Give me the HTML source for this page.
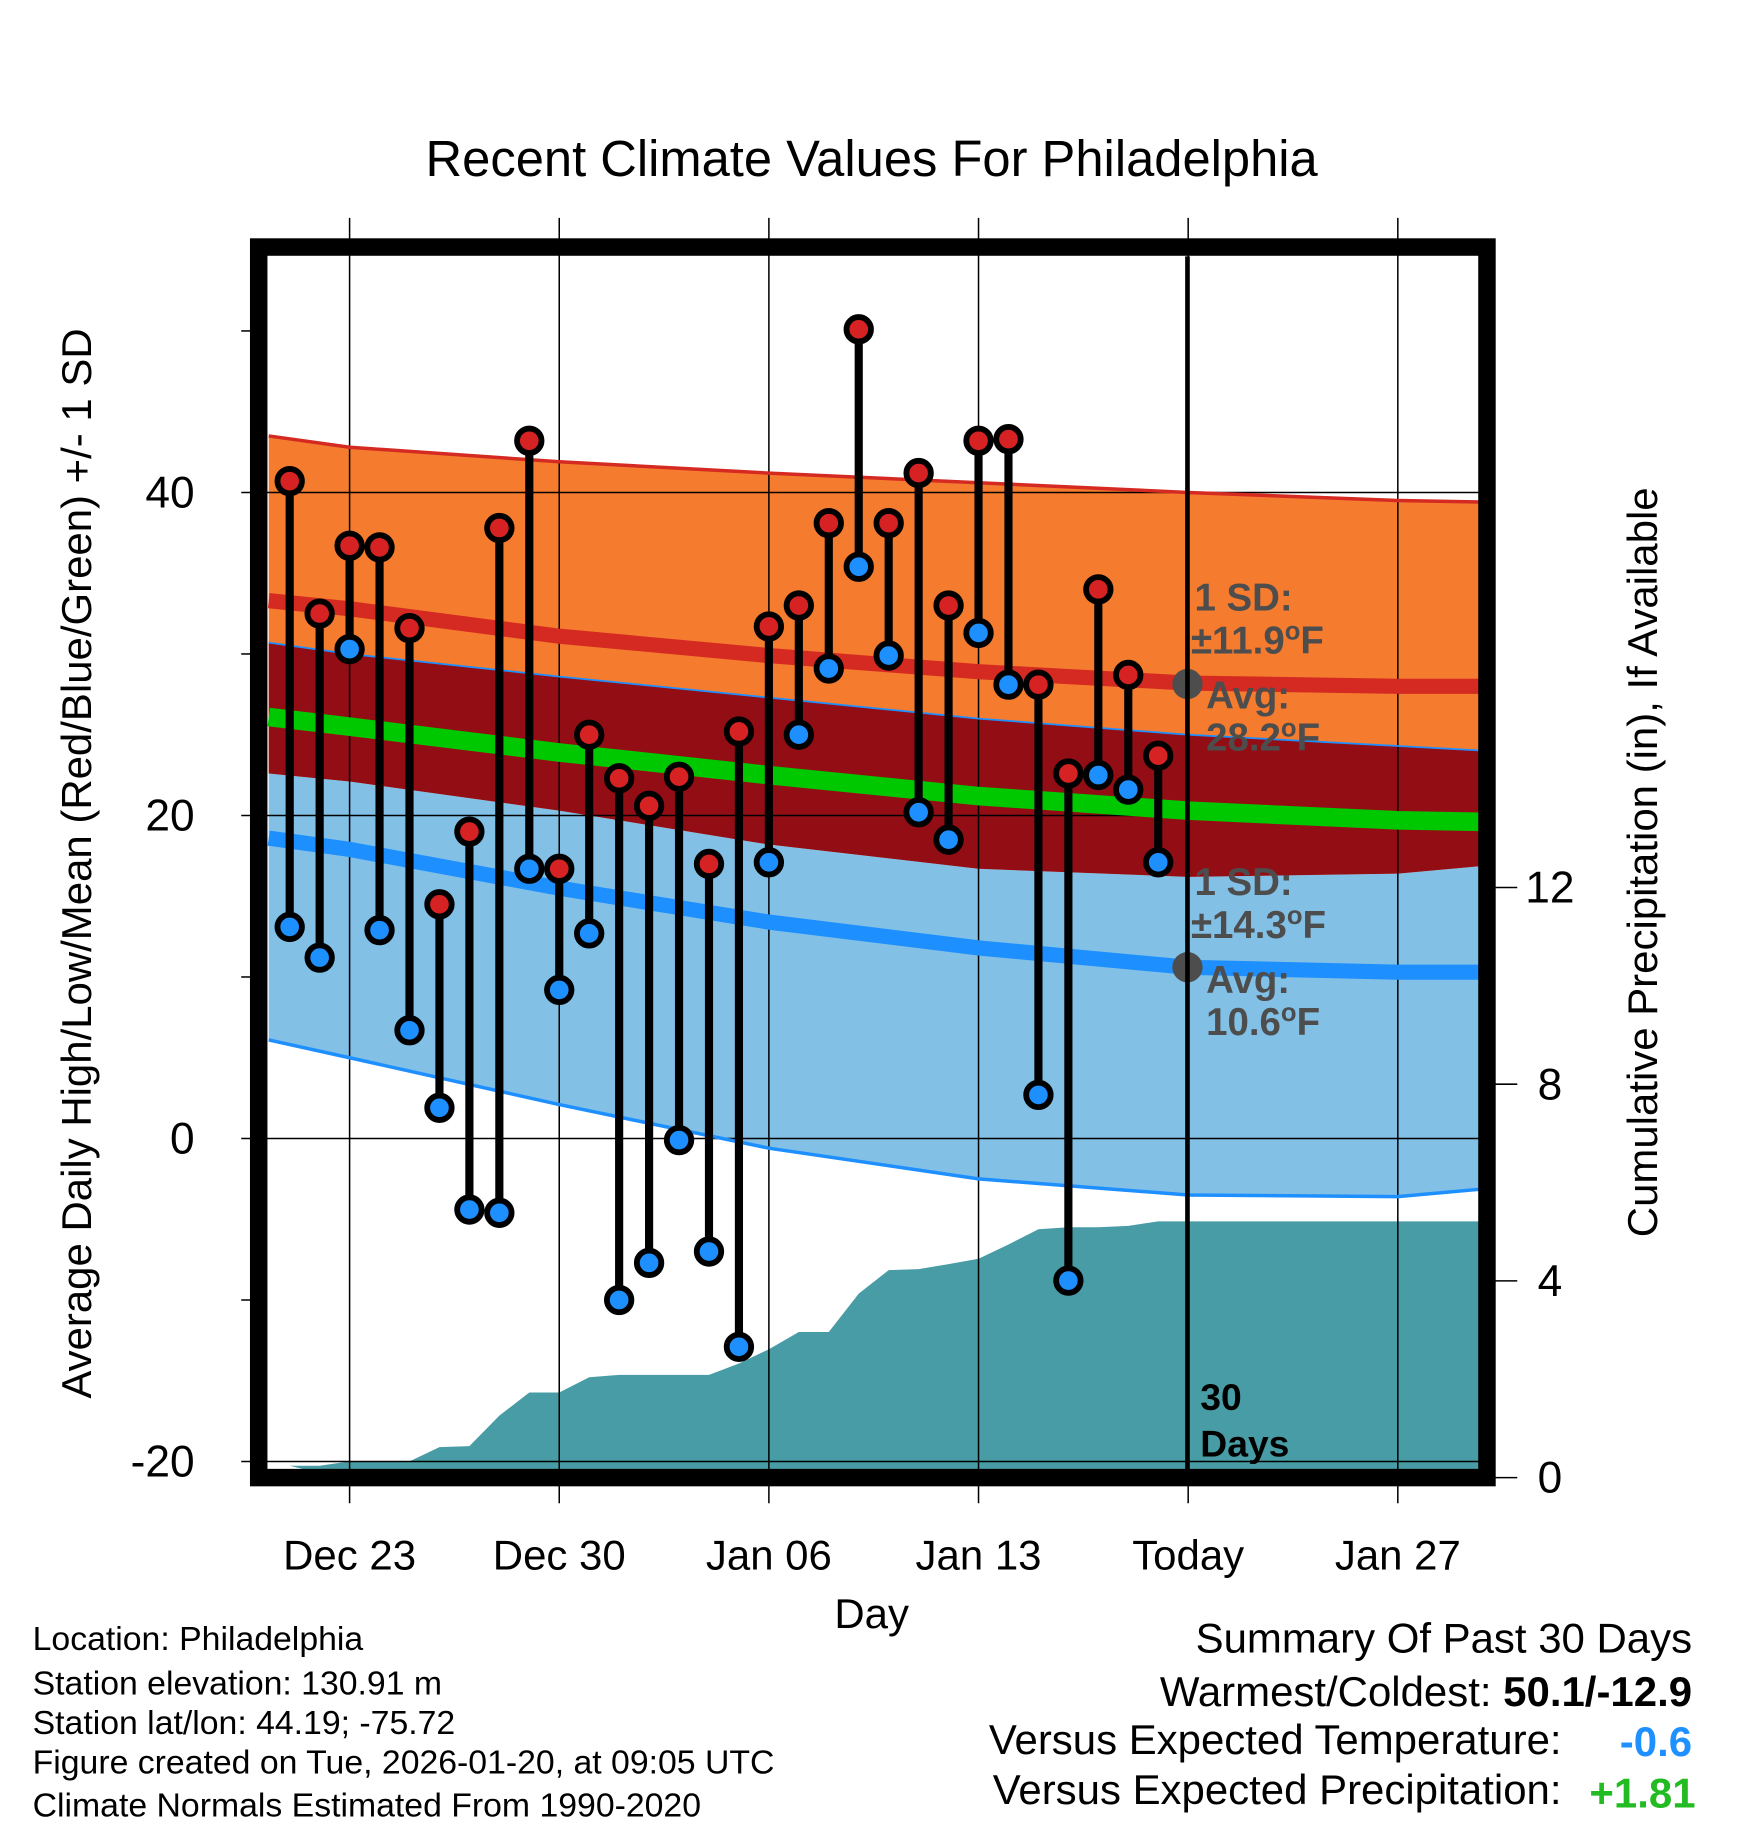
<!DOCTYPE html>
<html><head><meta charset="utf-8"><style>
html,body{margin:0;padding:0;background:#fff;}
svg{display:block;}
text{font-family:"Liberation Sans",sans-serif;}
</style></head><body>
<svg id="chart" width="1748" height="1828" viewBox="0 0 1500 1568.7" preserveAspectRatio="none" xmlns="http://www.w3.org/2000/svg">
<text x="748" y="151" font-size="43.5" text-anchor="middle">Recent Climate Values For Philadelphia</text>
<g id="bands"></g>
<g id="precip"></g>
<g id="grid"></g>
<g id="lines"></g>
<g id="marks"></g>
<g id="annot">
<text x="1025" y="524" font-size="33" font-weight="bold" fill="#4d4d4d">1 SD:</text>
<text x="1022" y="561" font-size="33" font-weight="bold" fill="#4d4d4d">±11.9<tspan font-size="22" dy="-12">o</tspan><tspan dy="12">F</tspan></text>
<text x="1035" y="608" font-size="33" font-weight="bold" fill="#4d4d4d">Avg:</text>
<text x="1035" y="644" font-size="33" font-weight="bold" fill="#4d4d4d">28.2<tspan font-size="22" dy="-12">o</tspan><tspan dy="12">F</tspan></text>
<text x="1025" y="768" font-size="33" font-weight="bold" fill="#4d4d4d">1 SD:</text>
<text x="1022" y="805" font-size="33" font-weight="bold" fill="#4d4d4d">±14.3<tspan font-size="22" dy="-12">o</tspan><tspan dy="12">F</tspan></text>
<text x="1035" y="852" font-size="33" font-weight="bold" fill="#4d4d4d">Avg:</text>
<text x="1035" y="888" font-size="33" font-weight="bold" fill="#4d4d4d">10.6<tspan font-size="22" dy="-12">o</tspan><tspan dy="12">F</tspan></text>
<circle cx="1019" cy="587" r="13" fill="#4d4d4d"/>
<circle cx="1019" cy="830" r="13" fill="#4d4d4d"/>
<line x1="1019" y1="220" x2="1019" y2="1262" stroke="#000" stroke-width="4"/>
<text x="1030" y="1210" font-size="32" font-weight="bold">30</text>
<text x="1030" y="1250" font-size="32" font-weight="bold">Days</text>
</g>
<rect x="222" y="212" width="1054" height="1056" fill="none" stroke="#000" stroke-width="15"/>
<g id="axes"></g>
<text x="748" y="1397" font-size="36" text-anchor="middle">Day</text>
<text transform="translate(78,741) rotate(-90)" font-size="36" text-anchor="middle">Average Daily High/Low/Mean (Red/Blue/Green) +/- 1 SD</text>
<text transform="translate(1422,740) rotate(-90)" font-size="36" text-anchor="middle">Cumulative Precipitation (in), If Available</text>
<g font-size="29">
<text x="28" y="1416">Location: Philadelphia</text>
<text x="28" y="1454">Station elevation: 130.91 m</text>
<text x="28" y="1488">Station lat/lon: 44.19; -75.72</text>
<text x="28" y="1522">Figure created on Tue, 2026-01-20, at 09:05 UTC</text>
<text x="28" y="1559">Climate Normals Estimated From 1990-2020</text>
</g>
<g font-size="36">
<text x="1452" y="1418" text-anchor="end">Summary Of Past 30 Days</text>
<text x="1452" y="1464" text-anchor="end">Warmest/Coldest: <tspan font-weight="bold">50.1/-12.9</tspan></text>
<text x="1340" y="1505" text-anchor="end">Versus Expected Temperature:</text>
<text x="1452" y="1507" text-anchor="end" font-weight="bold" fill="#1e90ff">-0.6</text>
<text x="1340" y="1548" text-anchor="end">Versus Expected Precipitation:</text>
<text x="1455" y="1551" text-anchor="end" font-weight="bold" fill="#22bb22">+1.81</text>
</g>
</svg>
<script>
// Data (day offsets from Dec 21)
const highs = [40.7,32.5,36.7,36.6,31.6,14.5,19.0,37.8,43.2,16.7,25.0,22.3,20.6,22.4,17.0,25.2,31.7,33.0,38.1,50.1,38.1,41.2,33.0,43.2,43.3,28.1,22.6,34.0,28.7,23.7];
const lows = [13.1,11.2,30.3,12.9,6.7,1.9,-4.4,-4.6,16.7,9.2,12.7,-10.0,-7.7,-0.1,-7.0,-12.9,17.1,25.0,29.1,35.4,29.9,20.2,18.5,31.3,28.1,2.7,-8.8,22.5,21.6,17.1];
const precip = [0.24,0.24,0.33,0.33,0.33,0.62,0.64,1.26,1.73,1.73,2.04,2.09,2.09,2.09,2.09,2.32,2.61,2.96,2.96,3.74,4.22,4.24,4.34,4.45,4.74,5.05,5.09,5.09,5.12,5.21];
// Normals sampled at day offsets
const normDays = [-0.7,2,9,16,23,30,37,40.0];
const normHighPlus = [43.5,42.8,41.9,41.2,40.6,40.0,39.5,39.4];
const normHigh = [33.3,32.8,31.1,29.9,28.9,28.2,28.0,28.0];
const normLowPlus = [30.7,30.0,28.6,27.3,26.0,25.0,24.3,24.0];
const normMean = [26.1,25.5,23.9,22.5,21.2,20.3,19.7,19.6];
const normHighMinus = [22.6,22.1,20.3,18.2,16.7,16.2,16.4,16.9];
const normLow = [18.6,17.9,15.5,13.4,11.8,10.6,10.3,10.3];
const normLowMinus = [6.1,5.0,2.1,-0.6,-2.5,-3.5,-3.6,-3.1];
const xTickDays = [2,9,16,23,30,37];
const xTickLabels = ["Dec 23","Dec 30","Jan 06","Jan 13","Today","Jan 27"];
const yTicks = [-20,0,20,40];
const yMinor = [-10,10,30,50];
const pTicks = [0,4,8,12];

const NS="http://www.w3.org/2000/svg";
const X = d => 248.6 + 25.7*d;
const Y = v => 977 - 13.86*v;
const P = v => 1268 - 42.2*v;
function mk(parent,tag,attrs){const e=document.createElementNS(NS,tag);for(const k in attrs)e.setAttribute(k,attrs[k]);document.getElementById(parent).appendChild(e);return e;}
function pts(arr){return normDays.map((d,i)=>X(d)+","+Y(arr[i])).join(" ");}
function rev(arr){return normDays.map((d,i)=>X(d)+","+Y(arr[i])).reverse().join(" ");}

let e;
e=mk('bands','polygon',{points:pts(normHighPlus)+" "+rev(normHighMinus),fill:'#f57b2e'});


e=mk('bands','polygon',{points:pts(normHighMinus)+" "+rev(normLowMinus),fill:'#82c0e6'});


e=mk('bands','polygon',{points:pts(normLowPlus)+" "+rev(normHighMinus),fill:'#930d15'});



let pp = X(-0.7)+","+P(0)+" "+X(1.6)+","+P(0)+" ";
precip.forEach((v,i)=>{pp+=X(i)+","+P(v)+" ";});
pp += X(40.0)+","+P(precip[precip.length-1])+" "+X(40.0)+","+P(0);
e=mk('precip','polygon',{points:pp,fill:'#489ca5'});



xTickDays.forEach((d,i)=>{
  e=mk('grid','line',{x1:X(d),x2:X(d),y1:187,y2:1290,stroke:'#000','stroke-width':1.3});
  
  
});
yTicks.forEach(v=>{
  e=mk('grid','line',{x1:207,x2:1270,y1:Y(v),y2:Y(v),stroke:'#000','stroke-width':1.3});
  
  
});

[[normHighPlus,'#d42a22',3],[normLowMinus,'#1e8fff',3],[normLowPlus,'#1e8fff',1.5],[normHigh,'#d42a22',13],[normMean,'#00c800',16],[normLow,'#1e8fff',13]].forEach(([arr,c,w])=>{
  e=mk('lines','polyline',{points:pts(arr),fill:'none',stroke:c,'stroke-width':w});
  
  
});

highs.forEach((h,i)=>{
  e=mk('marks','line',{x1:X(i),x2:X(i),y1:Y(h),y2:Y(lows[i]),stroke:'#000','stroke-width':7});
  
  
});
highs.forEach((h,i)=>{
  e=mk('marks','circle',{cx:X(i),cy:Y(h),r:10.5,fill:'#d62222',stroke:'#000','stroke-width':5});
  
  
  e=mk('marks','circle',{cx:X(i),cy:Y(lows[i]),r:10.5,fill:'#1e8fff',stroke:'#000','stroke-width':5});
  
  
});

xTickDays.forEach((d,i)=>{
  e=mk('axes','text',{x:X(d),y:1347,'font-size':36,'text-anchor':'middle'});
  e.textContent=xTickLabels[i];
  
  
});
yTicks.forEach(v=>{
  e=mk('axes','text',{x:167,y:Y(v)+13,'font-size':38,'text-anchor':'end'});
  e.textContent=v;
  
  
});
yMinor.forEach(v=>{
  e=mk('axes','line',{x1:207,x2:216,y1:Y(v),y2:Y(v),stroke:'#000','stroke-width':1.3});
  
  
});
pTicks.forEach(v=>{
  e=mk('axes','line',{x1:1283,x2:1302,y1:P(v),y2:P(v),stroke:'#000','stroke-width':1.3});
  
  
  e=mk('axes','text',{x:1330,y:P(v)+13,'font-size':38,'text-anchor':'middle'});
  e.textContent=v;
  
  
});
</script>
</body></html>
